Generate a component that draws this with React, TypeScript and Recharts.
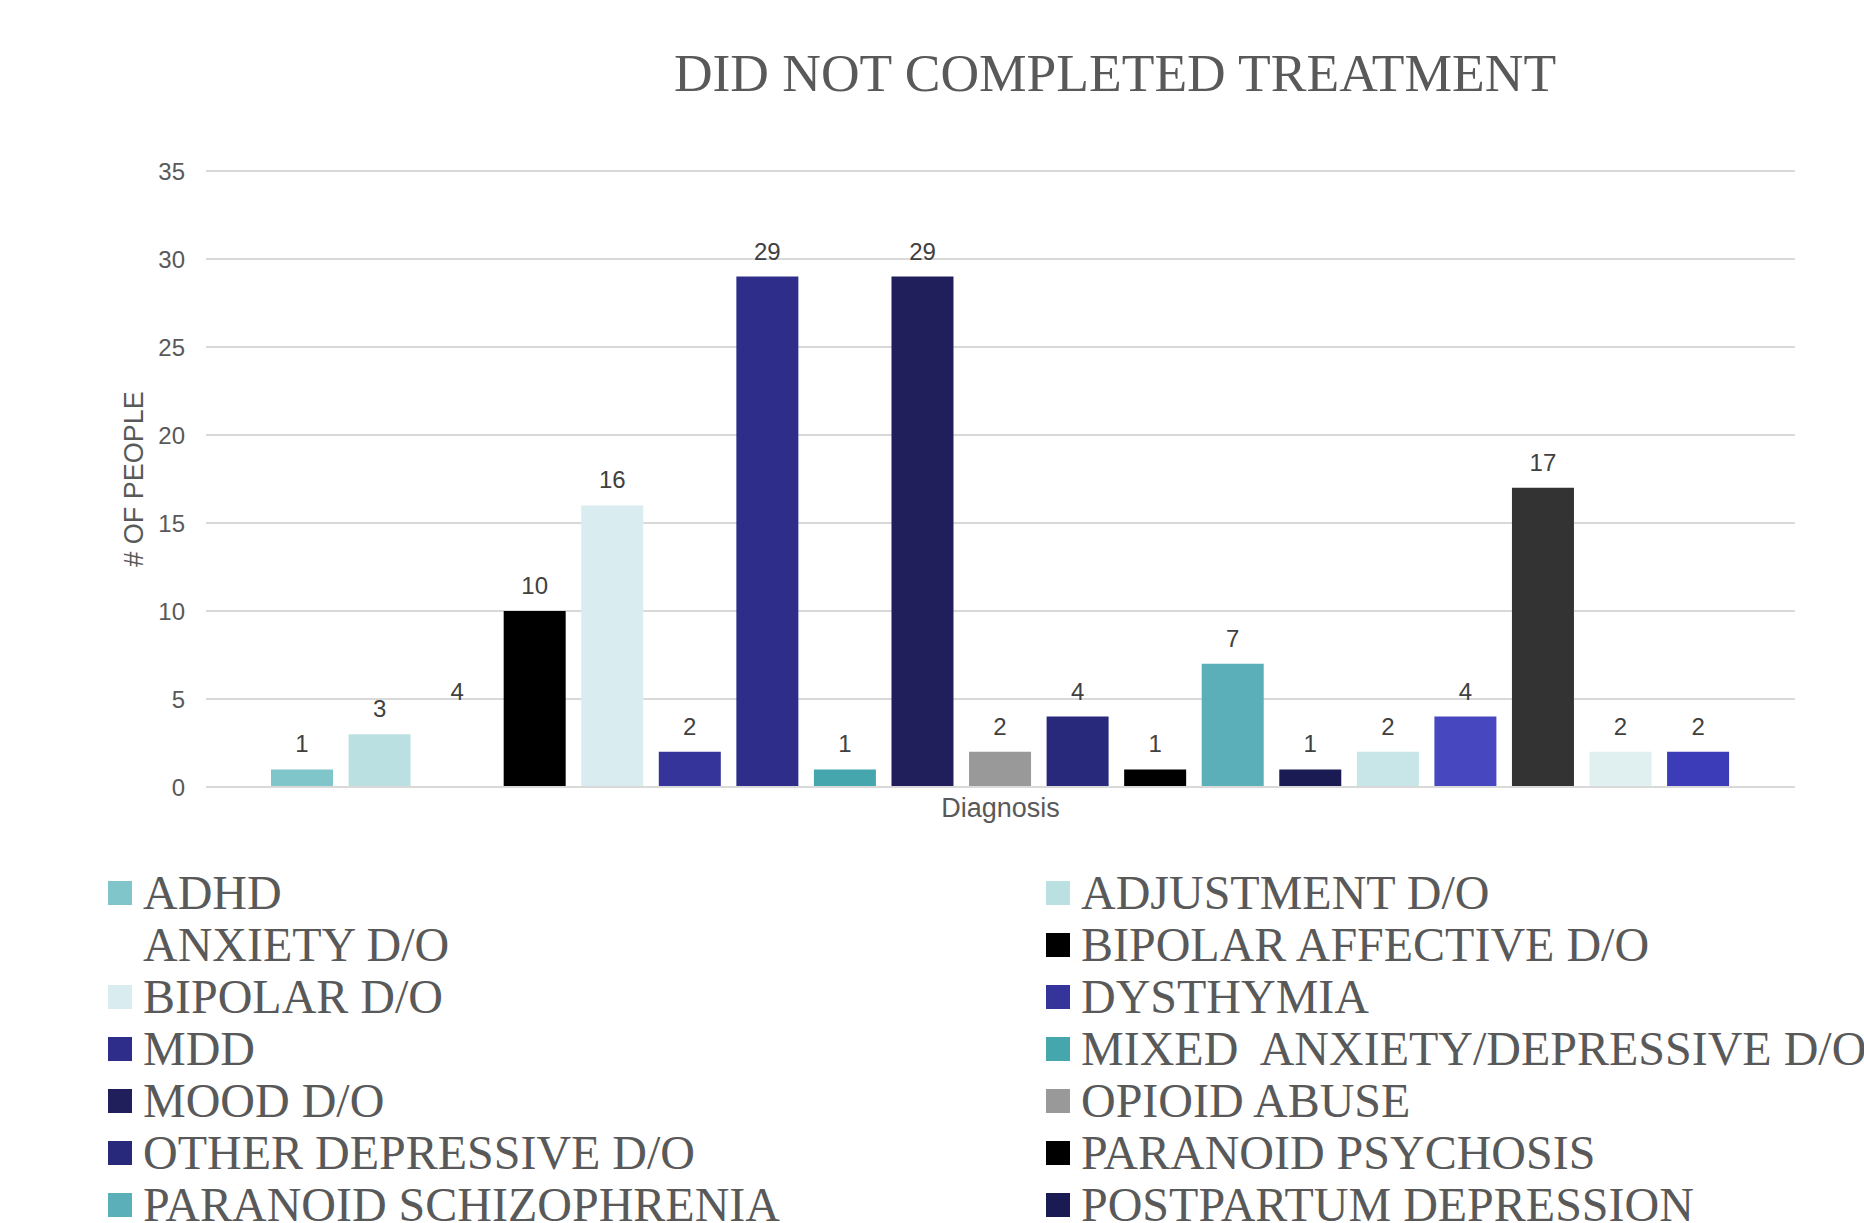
import React from "react";
import { Bar, BarChart, CartesianGrid, LabelList, XAxis, YAxis } from "recharts";

const category = "Diagnosis";

const diagnoses = [
  "ADHD",
  "ADJUSTMENT D/O",
  "ANXIETY D/O",
  "BIPOLAR AFFECTIVE D/O",
  "BIPOLAR D/O",
  "DYSTHYMIA",
  "MDD",
  "MIXED  ANXIETY/DEPRESSIVE D/O",
  "MOOD D/O",
  "OPIOID ABUSE",
  "OTHER DEPRESSIVE D/O",
  "PARANOID PSYCHOSIS",
  "PARANOID SCHIZOPHRENIA",
  "POSTPARTUM DEPRESSION",
  "SERIES 15",
  "SERIES 16",
  "SERIES 17",
  "SERIES 18",
  "SERIES 19",
];

const counts = [1, 3, 4, 10, 16, 2, 29, 1, 29, 2, 4, 1, 7, 1, 2, 4, 17, 2, 2];

const colors = [
  "#80c5ca",
  "#bbe0e2",
  "#ffffff",
  "#000000",
  "#d9ecef",
  "#35349a",
  "#2e2e8a",
  "#45a7ad",
  "#201f5b",
  "#999999",
  "#29297c",
  "#000000",
  "#5aafb8",
  "#1b1b54",
  "#c8e6e8",
  "#4747c0",
  "#333333",
  "#e0f0f0",
  "#3c3bb8",
];

const yTicks = [0, 5, 10, 15, 20, 25, 30, 35];

const row: Record<string, string | number> = { name: category };
diagnoses.forEach((d, i) => {
  row[d] = counts[i];
});
const data = [row];

const sans = "'Liberation Sans', Arial, sans-serif";
const serif = "'Liberation Serif', 'Times New Roman', serif";

function YLabel({ viewBox }: any) {
  const cy = viewBox.y + viewBox.height / 2;
  return (
    <text
      x={134}
      y={cy}
      transform={`rotate(-90 134 ${cy})`}
      textAnchor="middle"
      dominantBaseline="central"
      fill="#595959"
      fontSize={27}
      fontFamily={sans}
    >
      # OF PEOPLE
    </text>
  );
}

export default function App() {
  return (
    <div
      style={{
        position: "absolute",
        left: 0,
        top: 0,
        width: 1864,
        height: 1223,
        overflow: "hidden",
        background: "#fff",
      }}
    >
      <div
        style={{
          position: "absolute",
          left: 0,
          width: 2230,
          top: 47,
          textAlign: "center",
          fontFamily: serif,
          fontSize: 53.5,
          lineHeight: "53px",
          color: "#595959",
          whiteSpace: "nowrap",
        }}
      >
        DID NOT COMPLETED TREATMENT
      </div>

      <div style={{ position: "absolute", left: 0, top: 0 }}>
        <BarChart
          width={1864}
          height={830}
          data={data}
          margin={{ top: 171, right: 69, left: 0, bottom: 0 }}
          barSize={62}
          barGap={15.56}
        >
          <CartesianGrid vertical={false} stroke="#d9d9d9" strokeWidth={2} />
          <XAxis
            dataKey="name"
            height={43}
            tick={false}
            tickLine={false}
            axisLine={{ stroke: "#d9d9d9", strokeWidth: 2 }}
            label={{
              value: "Diagnosis",
              position: "insideBottom",
              offset: 13,
              fill: "#595959",
              fontSize: 27,
              fontFamily: sans,
            }}
          />
          <YAxis
            width={206}
            domain={[0, 35]}
            ticks={yTicks}
            axisLine={false}
            tickLine={false}
            tickMargin={15}
            tick={{ fill: "#595959", fontSize: 24, fontFamily: sans }}
            label={<YLabel />}
          />
          {diagnoses.map((d, i) => (
            <Bar key={d} dataKey={d} fill={colors[i]} isAnimationActive={false}>
              <LabelList
                dataKey={d}
                position="top"
                offset={17}
                fill="#404040"
                fontSize={24}
                fontFamily={sans}
              />
            </Bar>
          ))}
        </BarChart>
      </div>

      {diagnoses.map((d, i) => {
        const col = i % 2;
        const r = Math.floor(i / 2);
        const left = col === 0 ? 108 : 1046;
        return (
          <div
            key={d}
            style={{
              position: "absolute",
              left,
              top: 867 + r * 52,
              height: 52,
              display: "flex",
              alignItems: "center",
              whiteSpace: "pre",
            }}
          >
            <span
              style={{
                width: 24,
                height: 24,
                background: colors[i],
                display: "inline-block",
                marginRight: 11,
              }}
            />
            <span
              style={{
                fontFamily: serif,
                fontSize: 48,
                lineHeight: "52px",
                color: "#595959",
              }}
            >
              {d}
            </span>
          </div>
        );
      })}
    </div>
  );
}
